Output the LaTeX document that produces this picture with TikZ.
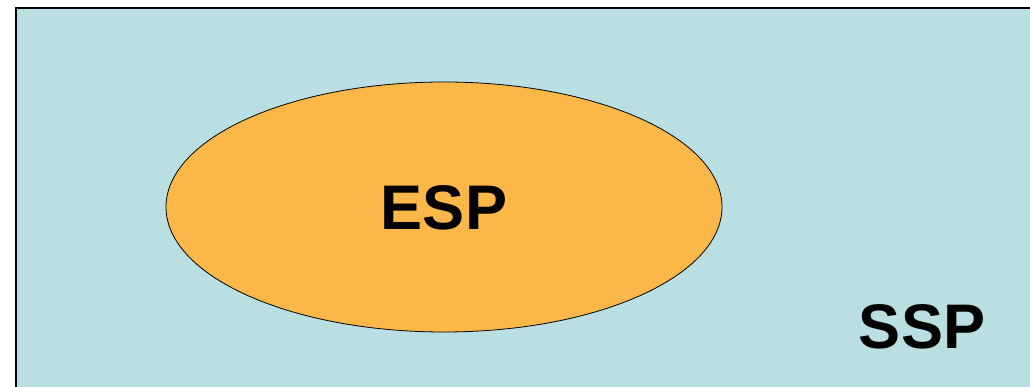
\documentclass[tikz,border=0pt]{standalone}
\usepackage{fontspec}
\setmainfont{Liberation Sans}
\usetikzlibrary{shapes.geometric}
\definecolor{sspblue}{HTML}{BADFE3}
\definecolor{esporange}{HTML}{FBB848}
\tikzset{setlabel/.style={font=\fontsize{63}{63}\selectfont\bfseries,inner sep=0pt},
         espset/.style={ellipse,draw=black,line width=0.8pt,fill=esporange,minimum width=556pt,minimum height=250pt}}

\begin{document}
\begin{tikzpicture}[x=1pt,y=-1pt]
\useasboundingbox (0,0) rectangle (1030,387);
\clip (0,0) rectangle (1030,387);
\draw[line width=2pt,fill=sspblue] (16,8) rectangle (1045,400);
\node (esp) [espset] at (444,207) {};
\node (esptext) [setlabel] at (444,208) {ESP};
\node (ssp) [setlabel] at (922,327) {SSP};
\end{tikzpicture}
\end{document}
